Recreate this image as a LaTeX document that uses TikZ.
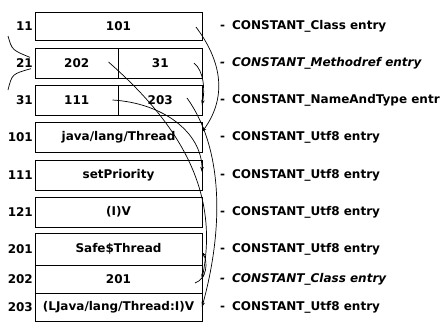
\documentclass[tikz,border=0pt]{standalone}
\usepackage{fontspec}
\setmainfont{DejaVu Sans}
\usetikzlibrary{arrows.meta,positioning}

\begin{document}
\begin{tikzpicture}[x=1pt, y=-1pt, font=\fontsize{12}{14}\selectfont\bfseries,
    entry/.style={draw, line width=0.9pt, inner sep=0pt, outer sep=0pt,
                  minimum width=167pt, minimum height=30pt},
    half/.style={entry, minimum width=83.5pt},
    idx/.style={inner sep=1pt, node distance=1pt},
    kind/.style={anchor=west, inner sep=0pt, node distance=18pt},
    ref/.style={-{Stealth[length=5pt, width=3.5pt]}, line width=0.7pt}]
  \useasboundingbox (0,0) rectangle (440,322);

  \node [entry, minimum height=28pt] (e11) at (118.5,26) {101};
  \node [half] (e21a) at (76.75,63) {202};
  \node [half, right=0pt of e21a] (e21b) {31};
  \node [half] (e31a) at (76.75,100) {111};
  \node [half, right=0pt of e31a] (e31b) {203};
  \node [entry] (e101) at (118.5,137) {java/lang/Thread};
  \node [entry] (e111) at (118.5,175) {setPriority};
  \node [entry] (e121) at (118.5,212) {(I)V};
  \node [entry, minimum height=32pt] (e201) at (118.5,249) {Safe\$Thread};
  \node [entry, minimum height=28pt, below=0pt of e201] (e202) {201};
  \node [entry, minimum height=28pt, below=0pt of e202] (e203) {(LJava/lang/Thread:I)V};

  \node [idx, left=of e11] (l11) {11};
  \node [idx, left=of e21a] (l21) {21};
  \node [idx, left=of e31a] (l31) {31};
  \node [idx, left=of e101] (l101) {101};
  \node [idx, left=of e111] (l111) {111};
  \node [idx, left=of e121] (l121) {121};
  \node [idx, left=of e201] (l201) {201};
  \node [idx, left=of e202] (l202) {202};
  \node [idx, left=of e203] (l203) {203};

  \node [kind, right=of e11] {-\hspace{7pt}CONSTANT\_Class entry};
  \node [kind, right=of e21b, font=\fontsize{12}{14}\selectfont\bfseries\itshape]
        {-\hspace{7pt}CONSTANT\_Methodref entry};
  \node [kind, right=of e31b] {-\hspace{7pt}CONSTANT\_NameAndType entr};
  \node [kind, right=of e101] {-\hspace{7pt}CONSTANT\_Utf8 entry};
  \node [kind, right=of e111] {-\hspace{7pt}CONSTANT\_Utf8 entry};
  \node [kind, right=of e121] {-\hspace{7pt}CONSTANT\_Utf8 entry};
  \node [kind, right=of e201] {-\hspace{7pt}CONSTANT\_Utf8 entry};
  \node [kind, right=of e202, font=\fontsize{12}{14}\selectfont\bfseries\itshape]
        {-\hspace{7pt}CONSTANT\_Class entry};
  \node [kind, right=of e203] {-\hspace{7pt}CONSTANT\_Utf8 entry};

  \coordinate (in21a) at (8,36);
  \coordinate (in21b) at (8,90);
  \draw [line width=0.7pt] (in21a) .. controls (12,50) .. ([xshift=-4pt]l21.north east);
  \draw [line width=0.7pt] (in21b) .. controls (12,74) .. ([xshift=-3pt]l21.south east);

  \draw [ref] ([xshift=-6pt, yshift=-1pt]e11.east)
        .. controls +(30,40) and +(22,-30) .. ([yshift=5pt]e101.east);
  \draw [ref] ([xshift=-8pt]e21b.east)
        .. controls +(10,8) and +(3,-15) .. ([yshift=-5pt]e31b.east);
  \draw [ref] ([xshift=-10pt, yshift=1pt]e21a.east)
        .. controls +(80,70) and +(16,-80) .. (e202.east);
  \draw [ref] ([xshift=-6pt]e31a.east)
        .. controls +(50,3) and +(0,-40) .. ([yshift=3pt]e111.east);
  \draw [ref] ([xshift=-15pt, yshift=2pt]e31b.east)
        .. controls +(36,50) and +(22,-80) .. (e203.east);
  \draw [ref] ([xshift=-7pt, yshift=-4pt]e202.east)
        .. controls +(12,-4) and +(6,10) .. ([yshift=-3pt]e201.east);
\end{tikzpicture}
\end{document}
